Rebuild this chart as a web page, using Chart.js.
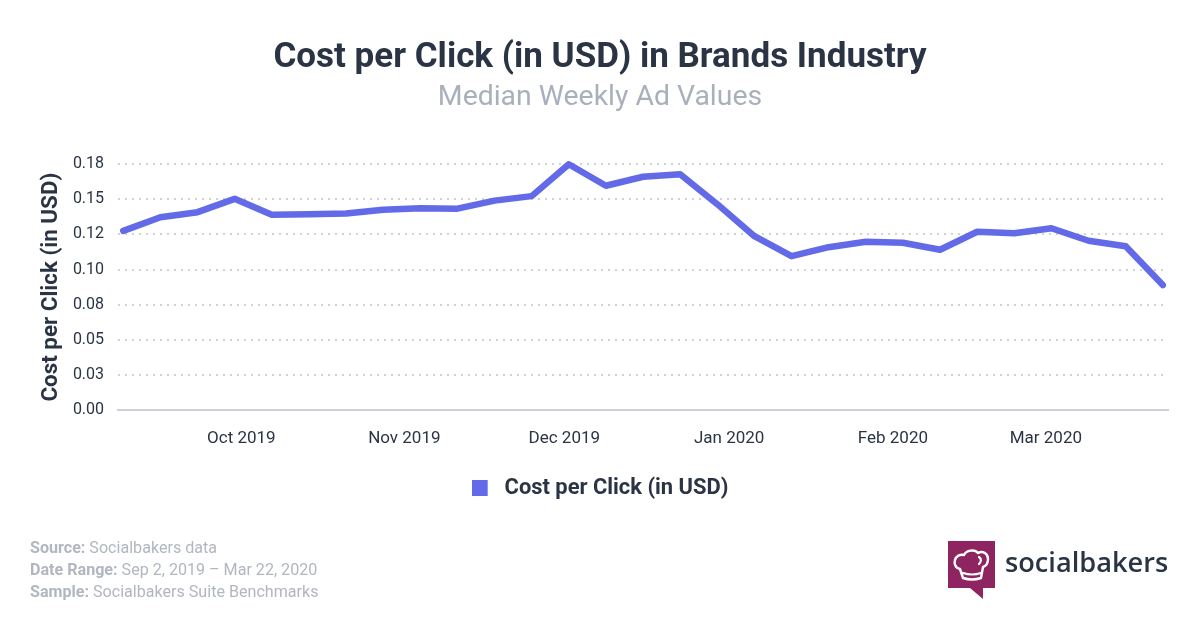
<!DOCTYPE html>
<html>
<head>
<meta charset="utf-8">
<script src="https://cdn.jsdelivr.net/npm/chart.js@4"></script>
<style>
	html, body { margin: 0; padding: 0; background: #fff; }
	#wrap { position: relative; width: 1200px; height: 630px; overflow: hidden; font-family: Roboto, sans-serif; }
	canvas { position: absolute; left: 0; top: 0; }
	#notes { position: absolute; left: 30px; top: 537px; font-size: 16.1px; line-height: 22px; color: #b1b6c0; }
	#notes b { font-weight: 700; }
	#logo { position: absolute; left: 948px; top: 541px; }
	#brand { position: absolute; left: 1005px; top: 542px; font: 600 27.2px "Open Sans", sans-serif; color: #2b3444; line-height: 40px; }
</style>
</head>
<body>
<div id="wrap">
	<canvas id="cpcChart" width="1200" height="630"></canvas>
	<div id="notes">
		<div><b>Source:</b> Socialbakers data</div>
		<div><b>Date Range:</b> Sep 2, 2019 – Mar 22, 2020</div>
		<div><b>Sample:</b> Socialbakers Suite Benchmarks</div>
	</div>
	<svg id="logo" width="48" height="58" viewBox="0 0 48 58">
		<path d="M0 0H47V47H35V58L22 47H0Z" fill="#8e2560"/>
		<path d="M12 28C7 27 6 22 7 19C8 15 12 13 16 14C18 9 27 8 30 12C35 9 40 13 40 18C40 22 38 25 35 26L33 37C27 39 21 39 15 37Z" fill="none" stroke="#fff" stroke-width="2.4" stroke-linejoin="round"/>
		<path d="M15 32C21 34 27 34 33 32M31 16C34 18 33 21 31 23" fill="none" stroke="#fff" stroke-width="2.2" stroke-linecap="round"/>
	</svg>
	<div id="brand">socialbakers</div>
</div>
<script>
const weekIndex = [0, 1, 2, 3, 4, 5, 6, 7, 8, 9, 10, 11, 12, 13, 14, 15, 16, 17, 18, 19, 20, 21, 22, 23, 24, 25, 26, 27, 28];
const cpcValues = [
	0.1275, 0.1372, 0.1408, 0.1503, 0.139, 0.1394, 0.1398, 0.1426, 0.1436, 0.1433,
	0.149, 0.1522, 0.1749, 0.1596, 0.166, 0.1678, 0.1465, 0.1237, 0.1095, 0.1159,
	0.1198, 0.1191, 0.1141, 0.1269, 0.1258, 0.1294, 0.1205, 0.1166, 0.089,
];
const monthLabels = ['Oct 2019', 'Nov 2019', 'Dec 2019', 'Jan 2020', 'Feb 2020', 'Mar 2020'];
const monthWeeks = [3.18, 7.57, 11.88, 16.32, 20.73, 24.85];
const yTickLabels = ['0.00', '0.03', '0.05', '0.08', '0.10', '0.12', '0.15', '0.18'];

const textDark = '#2b3444';
const lineColor = '#636ae8';

// legend marker: square on the left, the rest of the image widens the gap to the text
const legendMarker = document.createElement('canvas');
legendMarker.width = 22;
legendMarker.height = 16;
const markerCtx = legendMarker.getContext('2d');
markerCtx.fillStyle = lineColor;
markerCtx.fillRect(0, 0, 16, 16);

new Chart(document.getElementById('cpcChart').getContext('2d'), {
	type: 'line',
	data: {
		datasets: [
			{
				label: 'Cost per Click (in USD)',
				data: weekIndex.map((week, i) => ({ x: week, y: cpcValues[i] })),
				borderColor: lineColor,
				backgroundColor: lineColor,
				borderWidth: 6.5,
				borderCapStyle: 'round',
				borderJoinStyle: 'round',
				pointRadius: 0,
				tension: 0,
				clip: false,
			},
		],
	},
	options: {
		responsive: false,
		animation: false,
		events: [],
		layout: { padding: { left: 32, right: 32, top: 37, bottom: 121 } },
		plugins: {
			tooltip: { enabled: false },
			title: {
				display: true,
				text: 'Cost per Click (in USD) in Brands Industry',
				color: textDark,
				font: { family: 'Roboto', size: 35, weight: '700' },
				padding: { top: 0, bottom: 2 },
			},
			subtitle: {
				display: true,
				text: 'Median Weekly Ad Values',
				color: '#aab0bb',
				font: { family: 'Roboto', size: 28.4, weight: '400' },
				padding: { top: 0, bottom: 49 },
			},
			legend: {
				position: 'bottom',
				labels: {
					color: textDark,
					font: { family: 'Roboto', size: 21.9, weight: '700' },
					usePointStyle: true,
					pointStyle: legendMarker,
					pointStyleWidth: 22,
					boxHeight: 16,
					padding: 18.5,
				},
			},
		},
		scales: {
			x: {
				type: 'linear',
				min: -0.14,
				max: 28.14,
				afterBuildTicks: (axis) => {
					axis.ticks = monthWeeks.map((week) => ({ value: week }));
				},
				ticks: {
					autoSkip: false,
					maxRotation: 0,
					color: textDark,
					font: { family: 'Roboto', size: 17 },
					padding: 10,
					callback: (value, i) => monthLabels[i],
				},
				grid: { display: false },
				border: { display: true, color: '#ccd0d8', width: 2 },
			},
			y: {
				min: 0,
				max: 0.175,
				ticks: {
					stepSize: 0.025,
					color: textDark,
					font: { family: 'Roboto', size: 16 },
					padding: 14,
					callback: (value, i) => yTickLabels[i],
				},
				grid: {
					drawTicks: false,
					color: '#cfd2d9',
					lineWidth: 2,
				},
				border: { display: false, dash: [2, 5] },
				title: {
					display: true,
					text: 'Cost per Click (in USD)',
					color: textDark,
					font: { family: 'Roboto', size: 22.4, weight: '700' },
					padding: { top: 6, bottom: -6 },
				},
			},
		},
	},
});
</script>
</body>
</html>
